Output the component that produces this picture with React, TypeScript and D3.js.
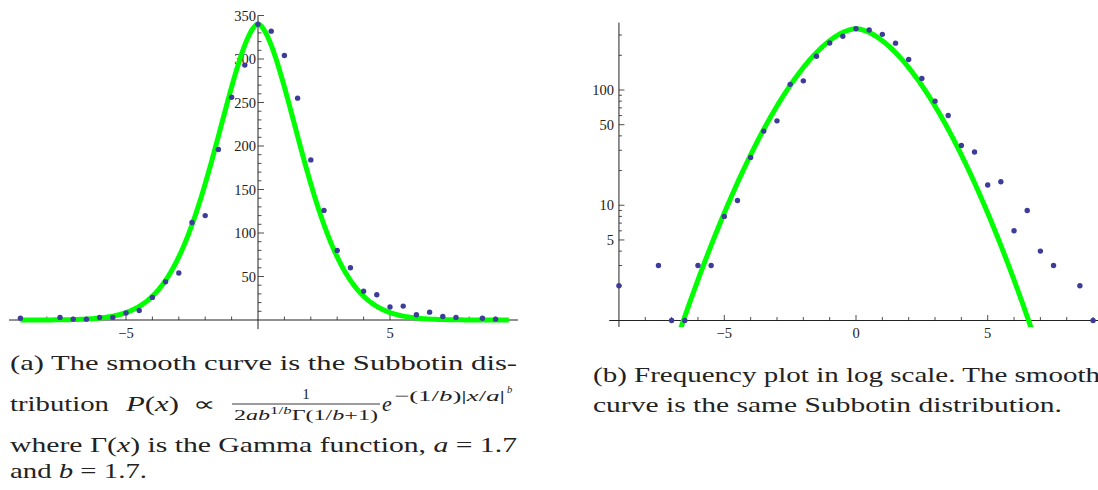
import * as d3 from "d3"
import { useEffect, useRef } from "react"

// bin centres and counts (empty bins are not plotted)
const binCenters = [
  -9, -7.5, -7, -6.5, -6, -5.5, -5, -4.5, -4, -3.5, -3, -2.5, -2, -1.5, -1, -0.5,
  0, 0.5, 1, 1.5, 2, 2.5, 3, 3.5, 4, 4.5, 5, 5.5, 6, 6.5, 7, 7.5, 8.5, 9,
]
const counts = [
  2, 3, 1, 1, 3, 3, 8, 11, 26, 44, 54, 112, 120, 196, 256, 293,
  340, 332, 304, 255, 184, 126, 80, 60, 33, 29, 15, 16, 6, 9, 4, 3, 2, 1,
]

const linearYLabels = [50, 100, 150, 200, 250, 300, 350]
const linearXLabels = [-5, 5]
const logYLabels = [5, 10, 50, 100]
const logYMinor = [2, 3, 4, 6, 7, 8, 9, 20, 30, 40, 60, 70, 80, 90, 200, 300]
const logXLabels = [-5, 0, 5]

// Subbotin curve parameters (caption: a = 1.7, b = 1.7), scaled to the peak count
const A = 1.7
const B = 1.7
const PEAK = 340

const subbotin = (x: number) =>
  PEAK * Math.exp(-(1 / B) * Math.pow(Math.abs(x / A), B))

const FONT = "Liberation Serif, Times New Roman, Times, serif"
const GREEN = "#00ff00"
const DOT = "#3d3d99"
const AXIS = "#222"

const fmt = (d: number) => (d < 0 ? "\u2212" + Math.abs(d) : String(d))

const App = () => {
  const svgRef = useRef<SVGSVGElement>(null)

  useEffect(() => {
    if (!svgRef.current) return
    const root = d3.select(svgRef.current)
    root.selectAll("g.chart").remove()

    const curveXs = d3.range(-9, 9.5001, 0.05)

    // ---------- (a) linear panel ----------
    const gA = root.append("g").attr("class", "chart")
    const xL = d3.scaleLinear().domain([-5, 5]).range([126, 390])
    const yL = d3.scaleLinear().domain([0, 350]).range([320, 15.5])

    gA.append("line")
      .attr("x1", xL(-9.43)).attr("x2", xL(9.85))
      .attr("y1", yL(0)).attr("y2", yL(0))
      .attr("stroke", AXIS).attr("stroke-width", 1)
    gA.append("line")
      .attr("x1", xL(0)).attr("x2", xL(0))
      .attr("y1", yL(350)).attr("y2", yL(-10.5))
      .attr("stroke", AXIS).attr("stroke-width", 1)

    gA.selectAll("line.xt")
      .data(d3.range(-9, 10).filter((d) => d !== 0))
      .join("line")
      .attr("class", "xt")
      .attr("x1", (d) => xL(d)).attr("x2", (d) => xL(d))
      .attr("y1", yL(0))
      .attr("y2", (d) => yL(0) - (d % 5 === 0 ? 5.5 : 3.5))
      .attr("stroke", AXIS).attr("stroke-width", 0.8)

    gA.selectAll("line.yt")
      .data(d3.range(10, 351, 10))
      .join("line")
      .attr("class", "yt")
      .attr("x1", xL(0))
      .attr("x2", (d) => xL(0) + (d % 50 === 0 ? 6 : 3.5))
      .attr("y1", (d) => yL(d)).attr("y2", (d) => yL(d))
      .attr("stroke", AXIS).attr("stroke-width", 0.8)

    gA.selectAll("text.yl")
      .data(linearYLabels)
      .join("text")
      .attr("class", "yl")
      .attr("x", xL(0) - 2)
      .attr("y", (d) => yL(d) + 5)
      .attr("text-anchor", "end")
      .attr("font-family", FONT)
      .attr("font-size", 14.5)
      .attr("fill", "#222")
      .text((d) => String(d))

    gA.selectAll("text.xl")
      .data(linearXLabels)
      .join("text")
      .attr("class", "xl")
      .attr("x", (d) => xL(d))
      .attr("y", 338)
      .attr("text-anchor", "middle")
      .attr("font-family", FONT)
      .attr("font-size", 14.5)
      .attr("fill", "#222")
      .text((d) => fmt(d))

    gA.append("path")
      .datum(curveXs)
      .attr("fill", "none")
      .attr("stroke", GREEN)
      .attr("stroke-width", 5)
      .attr("stroke-linejoin", "round")
      .attr(
        "d",
        d3.line<number>().x((d) => xL(d)).y((d) => yL(subbotin(d))),
      )

    gA.selectAll("circle")
      .data(binCenters)
      .join("circle")
      .attr("cx", (d) => xL(d))
      .attr("cy", (_, i) => yL(counts[i]))
      .attr("r", 2.7)
      .attr("fill", DOT)

    // ---------- (b) log panel ----------
    const gB = root.append("g").attr("class", "chart")
    const xR = d3.scaleLinear().domain([0, 5]).range([856, 987.7])
    const yR = d3.scaleLog().domain([1, 100]).range([320.5, 90])
    const yBottom = 0.88

    gB.append("clipPath")
      .attr("id", "logclip")
      .append("rect")
      .attr("x", 600).attr("y", 0)
      .attr("width", 520).attr("height", yR(yBottom))

    gB.append("line")
      .attr("x1", xR(-9.37)).attr("x2", xR(9.9))
      .attr("y1", yR(1)).attr("y2", yR(1))
      .attr("stroke", AXIS).attr("stroke-width", 1)
    gB.append("line")
      .attr("x1", xR(-9)).attr("x2", xR(-9))
      .attr("y1", yR(384)).attr("y2", yR(yBottom))
      .attr("stroke", AXIS).attr("stroke-width", 1)

    gB.selectAll("line.xt")
      .data(d3.range(-8, 10))
      .join("line")
      .attr("class", "xt")
      .attr("x1", (d) => xR(d)).attr("x2", (d) => xR(d))
      .attr("y1", yR(1))
      .attr("y2", (d) => yR(1) - (d % 5 === 0 ? 5.5 : 3.5))
      .attr("stroke", AXIS).attr("stroke-width", 0.8)

    gB.selectAll("line.yt")
      .data([...logYLabels, ...logYMinor])
      .join("line")
      .attr("class", "yt")
      .attr("x1", xR(-9))
      .attr("x2", (d) => xR(-9) + (logYLabels.includes(d) ? 5.5 : 3))
      .attr("y1", (d) => yR(d)).attr("y2", (d) => yR(d))
      .attr("stroke", AXIS).attr("stroke-width", 0.8)

    gB.selectAll("text.yl")
      .data(logYLabels)
      .join("text")
      .attr("class", "yl")
      .attr("x", xR(-9) - 5)
      .attr("y", (d) => yR(d) + 5)
      .attr("text-anchor", "end")
      .attr("font-family", FONT)
      .attr("font-size", 14.5)
      .attr("fill", "#222")
      .text((d) => String(d))

    gB.selectAll("text.xl")
      .data(logXLabels)
      .join("text")
      .attr("class", "xl")
      .attr("x", (d) => xR(d))
      .attr("y", 338)
      .attr("text-anchor", "middle")
      .attr("font-family", FONT)
      .attr("font-size", 14.5)
      .attr("fill", "#222")
      .text((d) => fmt(d))

    gB.append("path")
      .datum(curveXs.filter((d) => subbotin(d) > 0.3))
      .attr("clip-path", "url(#logclip)")
      .attr("fill", "none")
      .attr("stroke", GREEN)
      .attr("stroke-width", 5)
      .attr("stroke-linejoin", "round")
      .attr(
        "d",
        d3.line<number>().x((d) => xR(d)).y((d) => yR(subbotin(d))),
      )

    gB.selectAll("circle")
      .data(binCenters)
      .join("circle")
      .attr("cx", (d) => xR(d))
      .attr("cy", (_, i) => yR(counts[i]))
      .attr("r", 2.7)
      .attr("fill", DOT)
  }, [])

  const L1 = 370
  const L2 = 411
  const L3 = 452
  const L4 = 478
  const R1 = 382
  const R2 = 412
  const cap = { fontFamily: FONT, fill: "#222" }

  return (
    <div style={{ position: "absolute", left: 0, top: 0 }}>
      <svg
        ref={svgRef}
        width={1098}
        height={490}
        style={{ display: "block", background: "#fff" }}
      >
        <g style={cap}>
          <text x={10} y={L1} fontSize={22} textLength={507} lengthAdjust="spacingAndGlyphs">
            (a) The smooth curve is the Subbotin dis-
          </text>
          <text x={10} y={L2} fontSize={22} textLength={99} lengthAdjust="spacingAndGlyphs">
            tribution
          </text>
          <text x={126} y={L2} fontSize={22} textLength={53} lengthAdjust="spacingAndGlyphs">
            <tspan fontStyle="italic">P</tspan>(<tspan fontStyle="italic">x</tspan>)
          </text>
          <text x={193} y={L2} fontSize={20} textLength={22} lengthAdjust="spacingAndGlyphs">
            {"\u221D"}
          </text>
          <text x={306} y={L2 - 12} fontSize={15} textAnchor="middle">
            1
          </text>
          <line x1={232} x2={380} y1={L2 - 7} y2={L2 - 7} stroke="#222" strokeWidth={0.9} />
          <text x={234} y={L2 + 9} fontSize={15} textLength={144} lengthAdjust="spacingAndGlyphs">
            2<tspan fontStyle="italic">ab</tspan>
            <tspan fontSize={10.5} dy={-6}>1/<tspan fontStyle="italic">b</tspan></tspan>
            <tspan dy={6}>{"\u0393"}(1/</tspan>
            <tspan fontStyle="italic">b</tspan>+1)
          </text>
          <text x={382} y={L2} fontSize={22} fontStyle="italic">
            e
          </text>
          <text x={394} y={L2 - 10} fontSize={15} textLength={111} lengthAdjust="spacingAndGlyphs">
            {"\u2212"}(1/<tspan fontStyle="italic">b</tspan>)|<tspan fontStyle="italic">x</tspan>/<tspan fontStyle="italic">a</tspan>|
          </text>
          <text x={507} y={L2 - 18} fontSize={10.5} fontStyle="italic">
            b
          </text>
          <text x={10} y={L3} fontSize={22} textLength={507} lengthAdjust="spacingAndGlyphs">
            where {"\u0393"}(<tspan fontStyle="italic">x</tspan>) is the Gamma function, <tspan fontStyle="italic">a</tspan> = 1.7
          </text>
          <text x={10} y={L4} fontSize={22} textLength={137} lengthAdjust="spacingAndGlyphs">
            and <tspan fontStyle="italic">b</tspan> = 1.7.
          </text>
          <text x={593} y={R1} fontSize={22} textLength={507} lengthAdjust="spacingAndGlyphs">
            (b) Frequency plot in log scale. The smooth
          </text>
          <text x={593} y={R2} fontSize={22} textLength={469} lengthAdjust="spacingAndGlyphs">
            curve is the same Subbotin distribution.
          </text>
        </g>
      </svg>
    </div>
  )
}

export default App
